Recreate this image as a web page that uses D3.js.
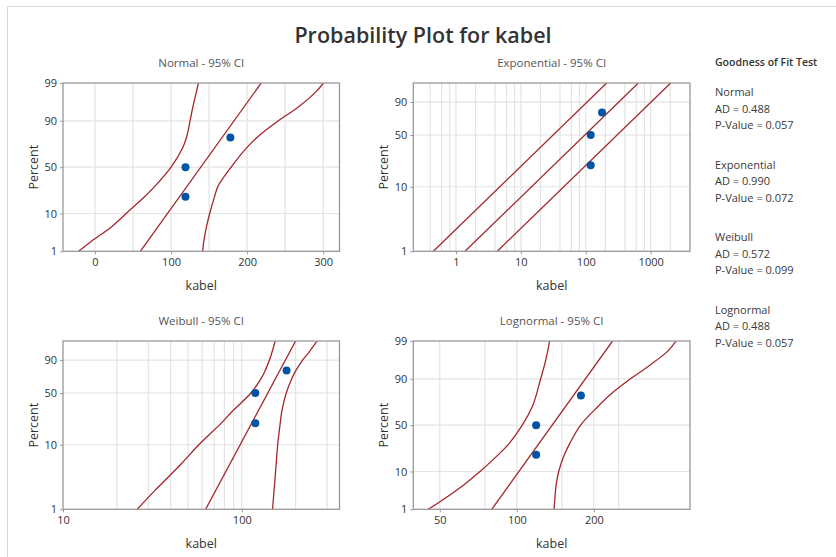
<!DOCTYPE html>
<html>
<head>
<meta charset="utf-8">
<script src="https://cdn.jsdelivr.net/npm/d3@7"></script>
<style>
    body { margin: 0; background: #fff; }
    text { font-family: "Open Sans", "Noto Sans", sans-serif; }
</style>
</head>
<body>
<svg id="chart" width="836" height="557"></svg>
<script>
// observations and their plotting positions (%)
const kabel = [119, 119, 178];
const rankPct = [20.6, 50, 79.4];

const pctLevels = [1, 2, 5, 10, 20, 30, 50, 70, 80, 90, 95, 98, 99];
const endPct = [1, 99];

// Normal
const normalFit = [59.6, 218.5];
const normalLower = [-21.5, -5, 22, 41, 64, 79, 100, 115, 120.6, 125, 128.5, 133, 136];
const normalUpper = [141.5, 143, 146.6, 150.8, 156.8, 161.8, 179, 199, 214, 241, 266, 289, 300.5];

// Exponential (straight lines on this scale)
const expFit = [1.377, 645];
const expLower = [0.448, 209.6];
const expUpper = [4.33, 2031];

// Weibull
const weibullFit = [62.8, 200];
const weibullLower = [26, 32.8, 45.5, 57.5, 75.8, 88.6, 112.5, 128.9, 135.7, 142.8, 147.2, 151.3, 153.8];
const weibullUpper = [148.6, 151.6, 155.6, 158.8, 163.8, 167.4, 177.3, 191.3, 201.7, 218.8, 236.3, 253.3, 263.6];

// Lognormal
const lognormalFit = [79.8, 236.6];
const lognormalLower = [45.1, 51.6, 62.2, 71.8, 83.9, 92.9, 105, 115.1, 119.2, 123.9, 128.1, 132.1, 134.3];
const lognormalUpper = [139.9, 140.7, 142.5, 145.8, 152.9, 160.5, 177.5, 208, 231.5, 278, 329, 390, 419];

// axis ticks / grids
const normalXTicks = [0, 100, 200, 300];
const normalXGrid = [0, 50, 100, 150, 200, 250, 300];
const expXTicks = [1, 10, 100, 1000];
const expXGrid = [0.4, 0.6, 0.8, 1, 2, 4, 6, 8, 10, 20, 40, 60, 80, 100, 200, 400, 600, 800, 1000, 2000];
const weibullXTicks = [10, 100];
const weibullXGrid = [20, 30, 40, 50, 60, 70, 80, 90, 100, 200, 300];
const lognormalXTicks = [50, 100, 200];
const lognormalXGrid = [50, 75, 100, 150, 200, 250];
const probYTicks = [1, 10, 50, 90, 99];
const smevYTicks = [1, 10, 50, 90];

const gofTests = [
    { name: 'Normal', ad: '0.488', p: '0.057' },
    { name: 'Exponential', ad: '0.990', p: '0.072' },
    { name: 'Weibull', ad: '0.572', p: '0.099' },
    { name: 'Lognormal', ad: '0.488', p: '0.057' }
];

const red = '#a3262c', blue = '#0054a6';

// inverse standard normal cdf (Acklam)
function probit(p) {
    const a = [-39.6968302866538, 220.946098424521, -275.928510446969, 138.357751867269, -30.6647980661472, 2.50662827745924],
        b = [-54.4760987982241, 161.585836858041, -155.698979859887, 66.8013118877197, -13.2806815528857],
        c = [-0.00778489400243029, -0.322396458041136, -2.40075827716184, -2.54973253934373, 4.37466414146497, 2.93816398269878],
        d = [0.00778469570904146, 0.32246712907004, 2.445134137143, 3.75440866190742];
    const pl = 0.02425;
    let q, r;
    if (p < pl) {
        q = Math.sqrt(-2 * Math.log(p));
        return (((((c[0] * q + c[1]) * q + c[2]) * q + c[3]) * q + c[4]) * q + c[5]) / ((((d[0] * q + d[1]) * q + d[2]) * q + d[3]) * q + 1);
    }
    if (p > 1 - pl) {
        q = Math.sqrt(-2 * Math.log(1 - p));
        return -(((((c[0] * q + c[1]) * q + c[2]) * q + c[3]) * q + c[4]) * q + c[5]) / ((((d[0] * q + d[1]) * q + d[2]) * q + d[3]) * q + 1);
    }
    q = p - 0.5;
    r = q * q;
    return (((((a[0] * r + a[1]) * r + a[2]) * r + a[3]) * r + a[4]) * r + a[5]) * q / (((((b[0] * r + b[1]) * r + b[2]) * r + b[3]) * r + b[4]) * r + 1);
}
const normalT = p => probit(p / 100);
const weibullT = p => Math.log10(-Math.log(1 - p / 100));

const svg = d3.select('#chart');

// outer frame (cut off at right/bottom like the screenshot)
svg.append('rect')
    .attr('x', 7.5).attr('y', 6.5).attr('width', 900).attr('height', 600)
    .attr('fill', 'none').attr('stroke', '#d9d9d9');

svg.append('text')
    .attr('x', 423).attr('y', 43)
    .attr('text-anchor', 'middle')
    .attr('font-size', 21.5).attr('font-weight', 600).attr('fill', '#333')
    .text('Probability Plot for kabel');

let clipId = 0;

function panel(o) {
    const w = o.width, h = o.height;
    const g = svg.append('g').attr('transform', 'translate(' + o.left + ',' + o.top + ')');
    const x = o.x.range([0, w]);
    const yl = d3.scaleLinear().domain([o.t(1), o.t(99)]).range([h, 0]);
    const y = p => yl(o.t(p));

    const id = 'clip' + (clipId++);
    g.append('clipPath').attr('id', id).append('rect').attr('width', w).attr('height', h);

    // grid
    g.selectAll('.vgrid')
        .data(o.grid)
        .enter().append('line')
        .attr('class', 'vgrid')
        .attr('x1', d => x(d)).attr('x2', d => x(d))
        .attr('y1', 0).attr('y2', h)
        .attr('stroke', '#e3e3e3').attr('stroke-width', 1.2);
    g.selectAll('.hgrid')
        .data(o.yTicks.filter(d => d > 1 && d < 99))
        .enter().append('line')
        .attr('class', 'hgrid')
        .attr('x1', 0).attr('x2', w)
        .attr('y1', d => y(d)).attr('y2', d => y(d))
        .attr('stroke', '#e3e3e3').attr('stroke-width', 1.2);

    // axes
    const xAxis = g.append('g')
        .attr('transform', 'translate(0,' + h + ')')
        .call(d3.axisBottom(x).tickValues(o.xTicks).tickSize(3).tickPadding(4).tickFormat(d3.format('d')));
    const yAxis = g.append('g')
        .call(d3.axisLeft(yl).tickValues(o.yTicks.map(o.t)).tickSize(3).tickPadding(3)
            .tickFormat((d, i) => o.yTicks[i]));
    [xAxis, yAxis].forEach(a => {
        a.select('.domain').remove();
        a.selectAll('line').attr('stroke', '#999');
        a.selectAll('text').attr('fill', '#333').attr('font-size', 11)
            .style('font-family', '"Open Sans", "Noto Sans", sans-serif');
    });

    // fitted line and confidence bands
    const band = d3.line()
        .x(d => x(d[1]))
        .y(d => y(d[0]))
        .curve(d3.curveCatmullRom.alpha(0.5));
    const curves = g.append('g').attr('clip-path', 'url(#' + id + ')');
    o.lines.forEach(vals => {
        const pcts = vals.length === 2 ? endPct : pctLevels;
        curves.append('path')
            .datum(pcts.map((p, i) => [p, vals[i]]))
            .attr('d', band)
            .attr('fill', 'none')
            .attr('stroke', red)
            .attr('stroke-width', 1.3);
    });

    g.selectAll('.dot')
        .data(kabel)
        .enter().append('circle')
        .attr('class', 'dot')
        .attr('cx', d => x(d))
        .attr('cy', (d, i) => y(rankPct[i]))
        .attr('r', 4)
        .attr('fill', blue);

    // frame
    g.append('rect')
        .attr('width', w).attr('height', h)
        .attr('fill', 'none').attr('stroke', '#999').attr('stroke-width', 1.3);

    // labels
    g.append('text')
        .attr('x', w / 2).attr('y', -16)
        .attr('text-anchor', 'middle').attr('font-size', 11.5).attr('fill', '#555')
        .text(o.title);
    g.append('text')
        .attr('x', w / 2).attr('y', h + 39)
        .attr('text-anchor', 'middle').attr('font-size', 12.5).attr('fill', '#333')
        .text('kabel');
    g.append('text')
        .attr('transform', 'translate(-25,' + (h / 2) + ') rotate(-90)')
        .attr('text-anchor', 'middle').attr('font-size', 12.5).attr('fill', '#333')
        .text('Percent');
}

panel({
    title: 'Normal - 95% CI', left: 63, top: 83, width: 276.5, height: 168.3,
    x: d3.scaleLinear().domain([-42, 321.4]), t: normalT,
    xTicks: normalXTicks, grid: normalXGrid, yTicks: probYTicks,
    lines: [normalLower, normalFit, normalUpper]
});
panel({
    title: 'Exponential - 95% CI', left: 413.3, top: 83, width: 276.7, height: 168.3,
    x: d3.scaleLog().domain([0.22, 4034]), t: weibullT,
    xTicks: expXTicks, grid: expXGrid, yTicks: smevYTicks,
    lines: [expLower, expFit, expUpper]
});
panel({
    title: 'Weibull - 95% CI', left: 63, top: 341, width: 276.5, height: 168.3,
    x: d3.scaleLog().domain([10, 352]), t: weibullT,
    xTicks: weibullXTicks, grid: weibullXGrid, yTicks: smevYTicks,
    lines: [weibullLower, weibullFit, weibullUpper]
});
panel({
    title: 'Lognormal - 95% CI', left: 413.3, top: 341, width: 276.7, height: 168.3,
    x: d3.scaleLog().domain([39.4, 475]), t: normalT,
    xTicks: lognormalXTicks, grid: lognormalXGrid, yTicks: probYTicks,
    lines: [lognormalLower, lognormalFit, lognormalUpper]
});

// goodness of fit text
const gof = svg.append('g').attr('transform', 'translate(715,0)');
gof.append('text')
    .attr('y', 66).attr('font-size', 10.5).attr('font-weight', 600).attr('fill', '#333')
    .text('Goodness of Fit Test');
gofTests.forEach((t, i) => {
    const y0 = 96 + i * 72.6;
    [t.name, 'AD = ' + t.ad, 'P-Value = ' + t.p].forEach((s, j) => {
        gof.append('text')
            .attr('y', y0 + j * 16.5)
            .attr('font-size', 11).attr('fill', '#3a3a3a')
            .text(s);
    });
});
</script>
</body>
</html>
